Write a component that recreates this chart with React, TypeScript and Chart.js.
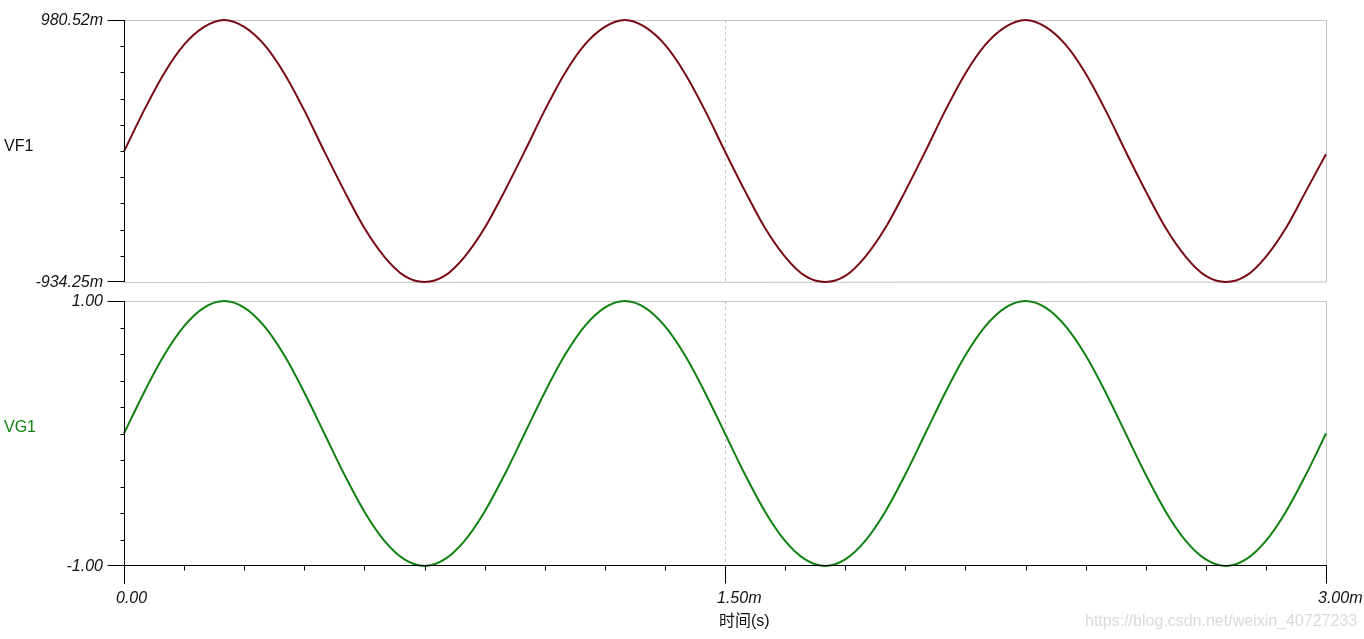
import React, { useEffect, useRef } from "react";
import { Chart, registerables } from "chart.js";

Chart.register(...registerables);

// ---- data (time in ms) ----
const TIME_MS = [
  0.0, 0.05, 0.1, 0.15, 0.2, 0.25, 0.3, 0.35, 0.4, 0.45,
  0.5, 0.55, 0.6, 0.65, 0.7, 0.75, 0.8, 0.85, 0.9, 0.95,
  1.0, 1.05, 1.1, 1.15, 1.2, 1.25, 1.3, 1.35, 1.4, 1.45,
  1.5, 1.55, 1.6, 1.65, 1.7, 1.75, 1.8, 1.85, 1.9, 1.95,
  2.0, 2.05, 2.1, 2.15, 2.2, 2.25, 2.3, 2.35, 2.4, 2.45,
  2.5, 2.55, 2.6, 2.65, 2.7, 2.75, 2.8, 2.85, 2.9, 2.95,
  3.0,
];

const VF1 = [
  0.02, 0.32, 0.59, 0.8, 0.93, 0.98052, 0.93, 0.8, 0.59, 0.32,
  0.02, -0.27, -0.54, -0.75, -0.89, -0.93425, -0.89, -0.75, -0.54, -0.27,
  0.02, 0.32, 0.59, 0.8, 0.93, 0.98052, 0.93, 0.8, 0.59, 0.32,
  0.02, -0.27, -0.54, -0.75, -0.89, -0.93425, -0.89, -0.75, -0.54, -0.27,
  0.02, 0.32, 0.59, 0.8, 0.93, 0.98052, 0.93, 0.8, 0.59, 0.32,
  0.02, -0.27, -0.54, -0.75, -0.89, -0.93425, -0.89, -0.75, -0.54, -0.27,
  0.0,
];

const VG1 = [
  0.0, 0.31, 0.59, 0.81, 0.95, 1.0, 0.95, 0.81, 0.59, 0.31,
  0.0, -0.31, -0.59, -0.81, -0.95, -1.0, -0.95, -0.81, -0.59, -0.31,
  0.0, 0.31, 0.59, 0.81, 0.95, 1.0, 0.95, 0.81, 0.59, 0.31,
  0.0, -0.31, -0.59, -0.81, -0.95, -1.0, -0.95, -0.81, -0.59, -0.31,
  0.0, 0.31, 0.59, 0.81, 0.95, 1.0, 0.95, 0.81, 0.59, 0.31,
  0.0, -0.31, -0.59, -0.81, -0.95, -1.0, -0.95, -0.81, -0.59, -0.31,
  0.0,
];

const VF1_RANGE = [-0.93425, 0.98052];
const VG1_RANGE = [-1.0, 1.0];
const VF1_TICK_LABELS = ["-934.25m", "980.52m"];
const VG1_TICK_LABELS = ["-1.00", "1.00"];
const X_RANGE = [0, 3];
const X_MINOR_TICKS = [
  0, 0.15, 0.3, 0.45, 0.6, 0.75, 0.9, 1.05, 1.2, 1.35, 1.5,
  1.65, 1.8, 1.95, 2.1, 2.25, 2.4, 2.55, 2.7, 2.85, 3.0,
];
const X_MAJOR_TICKS = [0, 1.5, 3.0];
const X_TICK_LABELS = ["0.00", "1.50m", "3.00m"];
const X_TITLE = "时间(s)";
const WATERMARK = "https://blog.csdn.net/weixin_40727233";

const W = 1364;
const H = 639;
const FONT = '"Liberation Sans", Arial, "Noto Sans CJK SC", sans-serif';
const GRAY = "#c4c4c4";

type PanelCfg = {
  name: string;
  nameColor: string;
  nameDy: number;
  lineColor: string;
  values: number[];
  range: number[];
  tickLabels: string[];
  padding: { left: number; top: number; right: number; bottom: number };
  xAxis: boolean;
};

const panelPlugin = (cfg: PanelCfg) => ({
  id: "panel_" + cfg.name,
  beforeDatasetsDraw(chart: any) {
    const ctx = chart.ctx as CanvasRenderingContext2D;
    const { left, right, top, bottom } = chart.chartArea;
    const xs = chart.scales.x;
    ctx.save();
    ctx.strokeStyle = GRAY;
    ctx.lineWidth = 1;
    ctx.beginPath();
    ctx.moveTo(left, top + 0.5);
    ctx.lineTo(right + 0.5, top + 0.5);
    ctx.lineTo(right + 0.5, bottom);
    if (!cfg.xAxis) {
      ctx.lineTo(left, bottom + 0.5);
    }
    ctx.stroke();
    const gx = Math.round(xs.getPixelForValue(X_MAJOR_TICKS[1])) + 0.5;
    ctx.setLineDash([3, 3]);
    ctx.beginPath();
    ctx.moveTo(gx, top);
    ctx.lineTo(gx, bottom);
    ctx.stroke();
    ctx.restore();
  },
  afterDatasetsDraw(chart: any) {
    const ctx = chart.ctx as CanvasRenderingContext2D;
    const { left, right, top, bottom } = chart.chartArea;
    const ys = chart.scales.y;
    const xs = chart.scales.x;
    ctx.save();
    ctx.strokeStyle = "#000";
    ctx.lineWidth = 1;
    const ax = Math.round(left) + 0.5;
    ctx.beginPath();
    ctx.moveTo(ax, top);
    ctx.lineTo(ax, cfg.xAxis ? bottom + 18 : bottom);
    ctx.stroke();
    const [ymin, ymax] = cfg.range;
    for (let i = 0; i <= 10; i++) {
      const v = ymin + ((ymax - ymin) * i) / 10;
      const py = Math.round(ys.getPixelForValue(v)) + (i === 0 ? -0.5 : 0.5);
      const len = i === 0 || i === 10 ? 17 : 4;
      ctx.beginPath();
      ctx.moveTo(ax - len, py);
      ctx.lineTo(ax, py);
      ctx.stroke();
    }
    ctx.fillStyle = "#111";
    ctx.font = "italic 16px " + FONT;
    ctx.textAlign = "right";
    ctx.textBaseline = "middle";
    ctx.fillText(cfg.tickLabels[1], 103, ys.getPixelForValue(ymax) + 1);
    ctx.fillText(cfg.tickLabels[0], 103, ys.getPixelForValue(ymin) + 1);
    ctx.font = "16px " + FONT;
    ctx.textAlign = "left";
    ctx.fillStyle = cfg.nameColor;
    ctx.fillText(cfg.name, 4, (top + bottom) / 2 + cfg.nameDy);

    if (cfg.xAxis) {
      const by = Math.round(bottom) - 0.5;
      ctx.strokeStyle = "#000";
      ctx.beginPath();
      ctx.moveTo(left, by);
      ctx.lineTo(right + 1, by);
      ctx.stroke();
      for (const t of X_MINOR_TICKS) {
        const px = Math.round(xs.getPixelForValue(t)) + 0.5;
        const major = X_MAJOR_TICKS.includes(t);
        ctx.beginPath();
        ctx.moveTo(px, by);
        ctx.lineTo(px, by + (major ? 18 : 5));
        ctx.stroke();
      }
      ctx.fillStyle = "#111";
      ctx.font = "italic 16px " + FONT;
      ctx.textAlign = "left";
      X_MAJOR_TICKS.forEach((t, i) => {
        const px = xs.getPixelForValue(t);
        ctx.fillText(X_TICK_LABELS[i], px - 8, bottom + 33);
      });
      ctx.font = "16px " + FONT;
      ctx.fillText(X_TITLE, xs.getPixelForValue(X_MAJOR_TICKS[1]) - 6, bottom + 56);
      ctx.fillStyle = "rgba(170,170,170,0.45)";
      ctx.fillText(WATERMARK, 1085, bottom + 56);
    }
    ctx.restore();
  },
});

function Panel({ cfg }: { cfg: PanelCfg }) {
  const ref = useRef<HTMLCanvasElement | null>(null);
  useEffect(() => {
    if (!ref.current) return;
    const chart = new Chart(ref.current, {
      type: "line",
      data: {
        datasets: [
          {
            data: TIME_MS.map((t, i) => ({ x: t, y: cfg.values[i] })),
            borderColor: cfg.lineColor,
            borderWidth: 2,
            pointRadius: 0,
            cubicInterpolationMode: "monotone",
            fill: false,
            clip: 4,
          } as any,
        ],
      },
      options: {
        animation: false,
        responsive: false,
        devicePixelRatio: 1,
        layout: { padding: cfg.padding },
        plugins: { legend: { display: false }, tooltip: { enabled: false } },
        events: [],
        scales: {
          x: { type: "linear", min: X_RANGE[0], max: X_RANGE[1], display: false },
          y: { type: "linear", min: cfg.range[0], max: cfg.range[1], display: false },
        },
      },
      plugins: [panelPlugin(cfg)],
    });
    return () => chart.destroy();
  }, [cfg]);
  return (
    <canvas
      ref={ref}
      width={W}
      height={H}
      style={{ position: "absolute", left: 0, top: 0, width: W, height: H }}
    />
  );
}

const TOP: PanelCfg = {
  name: "VF1",
  nameColor: "#111",
  nameDy: -4,
  lineColor: "#780a14",
  values: VF1,
  range: VF1_RANGE,
  tickLabels: VF1_TICK_LABELS,
  padding: { left: 124, top: 20, right: W - 1326, bottom: H - 282 },
  xAxis: false,
};

const BOTTOM: PanelCfg = {
  name: "VG1",
  nameColor: "#108010",
  nameDy: -6,
  lineColor: "#108010",
  values: VG1,
  range: VG1_RANGE,
  tickLabels: VG1_TICK_LABELS,
  padding: { left: 124, top: 301, right: W - 1326, bottom: H - 566 },
  xAxis: true,
};

export default function App() {
  return (
    <div
      style={{
        position: "fixed",
        left: 0,
        top: 0,
        width: W,
        height: H,
        background: "#fff",
        overflow: "hidden",
      }}
    >
      <Panel cfg={TOP} />
      <Panel cfg={BOTTOM} />
    </div>
  );
}
